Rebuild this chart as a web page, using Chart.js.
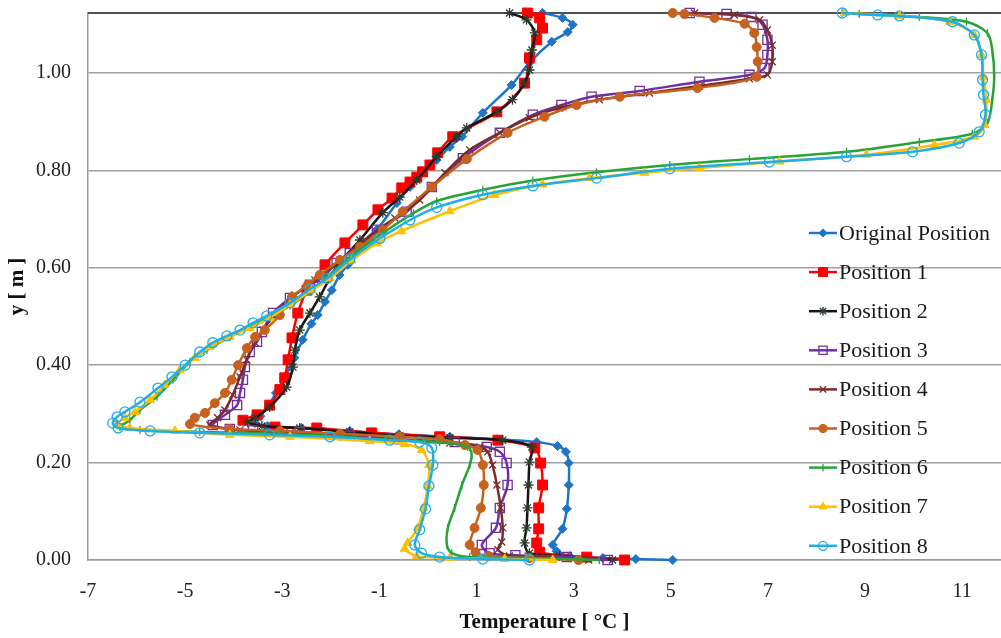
<!DOCTYPE html>
<html><head><meta charset="utf-8">
<script src="https://cdn.jsdelivr.net/npm/chart.js@4.4.0/dist/chart.umd.min.js"></script>
<style>html,body{margin:0;padding:0;background:#fff;overflow:hidden}</style>
</head><body>
<canvas id="c" width="1001" height="638"></canvas>
<script>
// ---------- DATA ----------
const seriesNames = ["Original Position","Position 1","Position 2","Position 3","Position 4","Position 5","Position 6","Position 7","Position 8"];
const xTicks = [-7,-5,-3,-1,1,3,5,7,9,11];
const yTicks = [0,0.2,0.4,0.6,0.8,1.0];
// [temperature °C, y m]
const originalPosition = [[5.04,0.000],[4.28,0.002],[3.60,0.004],[2.92,0.008],[2.65,0.018],[2.57,0.031],[2.77,0.064],[2.86,0.105],[2.90,0.154],[2.90,0.199],[2.84,0.222],[2.67,0.234],[2.24,0.242],[1.42,0.248],[0.45,0.253],[-0.60,0.258],[-1.61,0.265],[-2.60,0.271],[-3.30,0.275],[-3.56,0.281],[-3.45,0.295],[-3.28,0.318],[-3.13,0.343],[-2.95,0.375],[-2.75,0.415],[-2.58,0.452],[-2.40,0.485],[-2.27,0.503],[-2.12,0.530],[-1.98,0.554],[-1.82,0.585],[-1.65,0.606],[-1.36,0.647],[-1.05,0.678],[-0.64,0.733],[-0.37,0.766],[-0.11,0.795],[0.18,0.821],[0.45,0.848],[0.70,0.869],[1.13,0.918],[1.72,0.975],[2.09,1.021],[2.55,1.064],[2.88,1.084],[2.98,1.099],[2.77,1.113],[2.36,1.123]];
const position1 = [[4.05,0.000],[3.27,0.006],[2.30,0.016],[2.24,0.035],[2.28,0.064],[2.28,0.107],[2.36,0.154],[2.32,0.199],[2.20,0.230],[1.44,0.246],[0.24,0.253],[-1.16,0.261],[-2.29,0.271],[-3.15,0.273],[-3.81,0.287],[-3.52,0.298],[-3.26,0.318],[-3.05,0.350],[-2.95,0.374],[-2.88,0.411],[-2.80,0.456],[-2.68,0.507],[-2.49,0.554],[-2.12,0.606],[-1.71,0.651],[-1.34,0.688],[-1.03,0.719],[-0.74,0.743],[-0.54,0.764],[-0.37,0.776],[-0.23,0.786],[-0.11,0.797],[0.04,0.811],[0.20,0.836],[0.51,0.869],[1.42,0.920],[1.99,0.979],[2.09,1.031],[2.24,1.068],[2.36,1.092],[2.30,1.113],[2.05,1.123]];
const position2 = [[3.80,0.000],[2.71,0.008],[2.09,0.014],[1.99,0.035],[2.03,0.066],[2.05,0.107],[2.07,0.154],[2.09,0.201],[2.14,0.232],[1.54,0.246],[0.45,0.251],[-0.58,0.255],[-1.61,0.263],[-2.64,0.271],[-3.42,0.275],[-3.71,0.283],[-3.56,0.292],[-3.26,0.314],[-2.91,0.355],[-2.78,0.396],[-2.74,0.431],[-2.64,0.472],[-2.43,0.507],[-2.23,0.540],[-1.88,0.602],[-1.40,0.657],[-0.93,0.713],[-0.58,0.745],[-0.23,0.780],[0.18,0.828],[0.59,0.869],[0.80,0.887],[1.42,0.920],[1.74,0.945],[1.99,0.979],[2.09,1.006],[2.14,1.047],[2.20,1.082],[2.03,1.109],[1.68,1.123]];
const position3 = [[3.70,0.000],[2.86,0.006],[1.80,0.010],[1.27,0.014],[1.11,0.031],[1.40,0.066],[1.48,0.107],[1.64,0.154],[1.62,0.199],[1.48,0.222],[1.21,0.232],[0.55,0.242],[-0.58,0.248],[-1.61,0.255],[-2.64,0.263],[-3.60,0.266],[-4.08,0.269],[-4.43,0.277],[-4.18,0.298],[-3.93,0.318],[-3.87,0.343],[-3.81,0.370],[-3.77,0.396],[-3.67,0.427],[-3.52,0.448],[-3.42,0.468],[-3.19,0.507],[-2.84,0.538],[-2.43,0.565],[-2.16,0.581],[-1.88,0.610],[-1.61,0.630],[-1.05,0.678],[-0.44,0.715],[0.08,0.766],[0.72,0.825],[1.48,0.877],[2.16,0.914],[2.75,0.934],[3.37,0.951],[4.36,0.963],[5.59,0.982],[6.62,0.996],[6.93,1.010],[6.99,1.037],[6.99,1.068],[6.89,1.099],[6.66,1.115],[6.15,1.121],[5.39,1.123]];
const position4 = [[3.31,0.000],[2.30,0.006],[1.68,0.008],[1.44,0.021],[1.52,0.037],[1.54,0.066],[1.50,0.107],[1.42,0.154],[1.33,0.195],[1.23,0.222],[1.07,0.232],[0.45,0.240],[-0.58,0.246],[-1.61,0.253],[-2.84,0.261],[-3.87,0.267],[-4.49,0.277],[-4.33,0.292],[-4.18,0.308],[-4.02,0.339],[-3.87,0.376],[-3.73,0.411],[-3.56,0.446],[-3.40,0.472],[-3.15,0.503],[-2.74,0.544],[-2.33,0.575],[-1.81,0.616],[-1.30,0.657],[-0.68,0.702],[-0.17,0.739],[0.35,0.795],[0.86,0.842],[1.48,0.877],[2.09,0.908],[2.71,0.928],[3.53,0.945],[4.56,0.959],[5.59,0.973],[6.62,0.988],[6.99,0.996],[7.09,1.023],[7.09,1.057],[6.99,1.088],[6.83,1.109],[6.31,1.119],[5.49,1.123]];
const position5 = [[3.10,0.000],[2.09,0.004],[1.25,0.008],[0.98,0.016],[0.86,0.031],[0.96,0.066],[1.09,0.107],[1.15,0.154],[1.13,0.195],[1.02,0.226],[0.76,0.236],[0.24,0.248],[-0.58,0.253],[-1.81,0.259],[-3.05,0.265],[-4.08,0.269],[-4.90,0.279],[-4.80,0.292],[-4.59,0.302],[-4.39,0.322],[-4.18,0.343],[-4.04,0.370],[-3.91,0.400],[-3.73,0.435],[-3.56,0.458],[-3.36,0.472],[-3.05,0.503],[-2.80,0.540],[-2.47,0.565],[-2.23,0.585],[-1.81,0.616],[-1.40,0.643],[-0.93,0.678],[-0.52,0.715],[0.08,0.766],[0.80,0.823],[1.64,0.877],[2.40,0.910],[3.06,0.934],[3.95,0.951],[5.55,0.969],[6.77,0.992],[6.79,1.023],[6.77,1.053],[6.72,1.082],[6.52,1.101],[5.90,1.113],[5.28,1.121],[5.04,1.123]];
const position6 = [[3.53,0.000],[2.09,0.004],[0.86,0.006],[0.49,0.014],[0.39,0.031],[0.41,0.066],[0.55,0.107],[0.70,0.154],[0.86,0.195],[0.90,0.216],[0.82,0.232],[0.24,0.242],[-0.58,0.246],[-1.81,0.253],[-3.05,0.259],[-4.70,0.263],[-5.93,0.267],[-6.34,0.273],[-6.14,0.287],[-5.93,0.308],[-5.58,0.335],[-5.25,0.370],[-4.90,0.407],[-4.55,0.431],[-4.08,0.458],[-3.67,0.478],[-3.26,0.499],[-2.84,0.522],[-2.43,0.550],[-2.08,0.581],[-1.61,0.622],[-0.93,0.671],[-0.30,0.712],[0.18,0.737],[1.13,0.760],[2.16,0.779],[3.47,0.796],[4.98,0.811],[6.62,0.823],[8.62,0.838],[10.12,0.858],[11.21,0.875],[11.52,0.897],[11.62,0.945],[11.66,0.992],[11.62,1.047],[11.52,1.082],[11.09,1.105],[10.12,1.115],[8.88,1.121],[8.53,1.123]];
const position7 = [[2.57,0.000],[1.58,0.002],[0.45,0.004],[-0.23,0.008],[-0.48,0.023],[-0.42,0.035],[-0.21,0.066],[-0.09,0.107],[0.00,0.152],[0.02,0.195],[-0.13,0.226],[-0.48,0.238],[-1.20,0.244],[-2.84,0.253],[-4.08,0.257],[-5.21,0.265],[-6.14,0.271],[-6.40,0.279],[-6.24,0.292],[-6.03,0.304],[-5.72,0.329],[-5.42,0.359],[-5.11,0.390],[-4.80,0.415],[-4.49,0.437],[-4.08,0.458],[-3.67,0.476],[-3.26,0.497],[-2.84,0.524],[-2.39,0.554],[-2.02,0.578],[-1.57,0.615],[-1.05,0.650],[-0.55,0.675],[0.45,0.716],[1.37,0.749],[2.36,0.771],[3.33,0.784],[4.46,0.795],[5.59,0.805],[7.24,0.818],[9.03,0.832],[10.43,0.852],[11.25,0.869],[11.46,0.893],[11.50,0.945],[11.44,0.992],[11.40,1.037],[11.25,1.078],[10.74,1.105],[9.71,1.117],[8.58,1.123]];
const position8 = [[2.09,0.000],[1.13,0.002],[0.24,0.006],[-0.13,0.014],[-0.27,0.031],[-0.17,0.062],[-0.05,0.105],[0.02,0.152],[0.10,0.195],[0.08,0.230],[-0.17,0.242],[-0.79,0.246],[-2.02,0.253],[-3.26,0.257],[-4.70,0.261],[-5.72,0.265],[-6.38,0.271],[-6.49,0.281],[-6.40,0.294],[-6.24,0.304],[-5.93,0.324],[-5.56,0.353],[-5.27,0.376],[-5.00,0.400],[-4.70,0.427],[-4.43,0.446],[-4.14,0.460],[-3.87,0.472],[-3.60,0.487],[-3.32,0.501],[-2.84,0.528],[-2.43,0.556],[-2.08,0.578],[-1.61,0.617],[-0.99,0.660],[-0.37,0.698],[0.18,0.724],[1.13,0.750],[2.16,0.768],[3.47,0.784],[4.98,0.803],[7.03,0.817],[8.62,0.828],[9.98,0.838],[10.94,0.856],[11.35,0.879],[11.48,0.914],[11.44,0.955],[11.42,0.986],[11.40,1.037],[11.25,1.078],[10.80,1.105],[9.71,1.117],[9.26,1.119],[8.53,1.123]];

// ---------- STYLES ----------
const seriesData = [originalPosition,position1,position2,position3,position4,position5,position6,position7,position8];
const seriesColors = ['#1E74C6','#FF0000','#151515','#7030A0','#7A2C2C','#C8601E','#28A436','#FFC000','#20AEE6'];
const markerStyles = [
  {pointStyle:'rectRot', r:4.5, fill:true},
  {pointStyle:'rect', r:7, fill:true},
  {pointStyle:'star', r:5, fill:false, color:'#2B3A2B'},
  {pointStyle:'rect', r:6.5, fill:false},
  {pointStyle:'crossRot', r:5, fill:false},
  {pointStyle:'circle', r:4.5, fill:true},
  {pointStyle:'line', r:4, fill:false, rot:90},
  {pointStyle:'triangle', r:5, fill:true},
  {pointStyle:'circle', r:5, fill:false}
];
const FONT = "'Liberation Serif','Times New Roman',serif";

const datasets = seriesData.map((arr, i) => {
  const m = markerStyles[i];
  const c = seriesColors[i];
  return {
    label: seriesNames[i],
    data: arr.map(p => ({x: p[0], y: p[1]})),
    showLine: true,
    borderColor: c,
    backgroundColor: c,
    borderWidth: 2.5,
    tension: 0.3,
    pointStyle: m.pointStyle,
    pointRadius: m.r,
    pointRotation: m.rot || 0,
    pointBackgroundColor: m.fill ? c : 'rgba(255,255,255,0)',
    pointBorderColor: m.color || c,
    pointBorderWidth: m.fill ? 1 : 1.3,
    order: 9 - i,
    clip: 12
  };
});

const framePlugin = {
  id: 'frame',
  beforeDatasetsDraw(chart) {
    const {ctx, chartArea: a} = chart;
    ctx.save();
    ctx.strokeStyle = '#505050';
    ctx.lineWidth = 2;
    ctx.beginPath(); ctx.moveTo(a.left, a.top); ctx.lineTo(a.right, a.top); ctx.stroke();
    ctx.restore();
  }
};

const legendPlugin = {
  id: 'insideLegend',
  afterDatasetsDraw(chart) {
    const ctx = chart.ctx;
    const a = chart.chartArea;
    const x0 = a.right - 192, x1 = a.right - 164, xt = a.right - 162;
    chart.data.datasets.forEach((ds, i) => {
      const y = 233 + i * 39.1;
      ctx.save();
      ctx.strokeStyle = ds.borderColor;
      ctx.lineWidth = ds.borderWidth;
      ctx.beginPath(); ctx.moveTo(x0, y); ctx.lineTo(x1, y); ctx.stroke();
      ctx.fillStyle = ds.pointBackgroundColor;
      ctx.strokeStyle = ds.pointBorderColor;
      ctx.lineWidth = ds.pointBorderWidth;
      Chart.helpers.drawPoint(ctx, {pointStyle: ds.pointStyle, radius: ds.pointRadius * 0.9, rotation: ds.pointRotation, borderWidth: ds.pointBorderWidth}, (x0 + x1) / 2, y);
      ctx.fillStyle = '#1a1a1a';
      ctx.font = "22px " + FONT;
      ctx.textBaseline = 'middle';
      ctx.textAlign = 'left';
      ctx.fillText(ds.label, xt, y + 1);
      ctx.restore();
    });
  }
};

new Chart(document.getElementById('c'), {
  type: 'scatter',
  data: { datasets },
  options: {
    responsive: false,
    animation: false,
    devicePixelRatio: 1,
    events: [],
    layout: { autoPadding: false, padding: { top: 13, right: 0, left: 0, bottom: 0 } },
    plugins: { legend: { display: false }, tooltip: { enabled: false } },
    scales: {
      x: {
        type: 'linear', min: -7, max: 11.8,
        afterBuildTicks: s => { s.ticks = xTicks.map(v => ({value: v})); },
        afterFit: s => { s.height = 78; s.paddingLeft = 0; s.paddingRight = 0; },
        grid: { display: false, drawTicks: false },
        border: { display: true, color: '#9a9a9a', width: 1.5 },
        ticks: { padding: 20, color: '#222', font: { family: FONT, size: 20 }, callback: v => String(v), maxRotation: 0, autoSkip: false },
        title: { display: true, text: 'Temperature [ °C ]', color: '#111', font: { family: FONT, size: 21, weight: 'bold' }, padding: { top: 0, bottom: 3 } }
      },
      y: {
        type: 'linear', min: 0, max: 1.123,
        afterBuildTicks: s => { s.ticks = yTicks.map(v => ({value: v})); },
        afterFit: s => { s.width = 88; s.paddingTop = 0; s.paddingBottom = 0; },
        grid: { color: '#a0a0a0', lineWidth: 1.5, drawTicks: false },
        border: { display: true, color: '#9a9a9a', width: 1.5 },
        ticks: { padding: 17, color: '#222', font: { family: FONT, size: 20 }, callback: v => Number(v).toFixed(2), autoSkip: false },
        title: { display: true, text: 'y [ m ]', color: '#111', font: { family: FONT, size: 21, weight: 'bold' }, padding: { top: 5, bottom: 0 } }
      }
    }
  },
  plugins: [framePlugin, legendPlugin]
});
</script>
</body></html>
